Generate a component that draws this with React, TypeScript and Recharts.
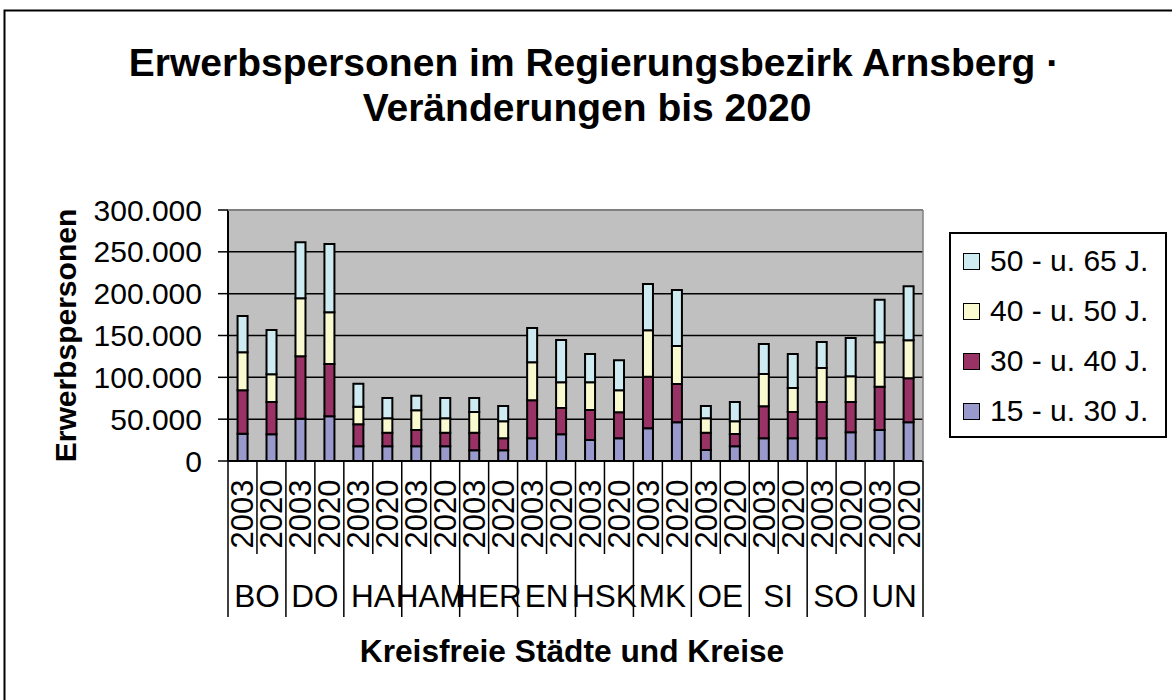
import React from 'react';
import { BarChart, Bar, XAxis, YAxis, CartesianGrid, Legend } from 'recharts';

// ---- data (values in persons) ----
const regions = ['BO', 'DO', 'HA', 'HAM', 'HER', 'EN', 'HSK', 'MK', 'OE', 'SI', 'SO', 'UN'];
const years = ['2003', '2020'];
const age15to30 = [32700, 31900, 50600, 53400, 17500, 17500, 17500, 17500, 12700, 12700, 27100, 31900, 25100, 27100, 39000, 46200, 13100, 17500, 27100, 27100, 27100, 34300, 37100, 46200];
const age30to40 = [51800, 38600, 74500, 62500, 26300, 16400, 19600, 16400, 21200, 14400, 45400, 31400, 35900, 31100, 61800, 45800, 20800, 14800, 38200, 31500, 43400, 36200, 51700, 52600];
const age40to50 = [45400, 33100, 69300, 61800, 21100, 17100, 23500, 17100, 24700, 20300, 45400, 30700, 33000, 26300, 55400, 45500, 17100, 15100, 38700, 28700, 40700, 30700, 53000, 45400];
const age50to65 = [43400, 53000, 67000, 81700, 27500, 24300, 17500, 24300, 16700, 18300, 41100, 50600, 33900, 35800, 55400, 66900, 14700, 23100, 35800, 40600, 31000, 45800, 51000, 64600];
const yTicks = [0, 50000, 100000, 150000, 200000, 250000, 300000];
const seriesNames = ['15 - u. 30 J.', '30 - u. 40 J.', '40 - u. 50 J.', '50 - u. 65 J.'];
const titleLines = ['Erwerbspersonen im Regierungsbezirk Arnsberg ·', 'Veränderungen bis 2020'];
const yTitle = 'Erwerbspersonen';
const xTitle = 'Kreisfreie Städte und Kreise';

const colors = ['#9999CC', '#993366', '#FAFAD0', '#CDEBF1'];
const keys = ['a15', 'a30', 'a40', 'a50'];

const data = regions.flatMap((r, ri) =>
  years.map((yr, yi) => {
    const i = ri * 2 + yi;
    return {
      id: `${r}-${yr}`,
      region: r,
      year: yr,
      a15: age15to30[i],
      a30: age30to40[i],
      a40: age40to50[i],
      a50: age50to65[i],
    };
  })
);

// ---- layout ----
const W = 1172;
const H = 700;
const FONT = '"Liberation Sans", Arial, Helvetica, sans-serif';
const M = { top: 210, right: 249, bottom: 79, left: 108 };
const Y_AXIS_W = 120;
const X_AXIS_H = 160;
const PLOT_L = M.left + Y_AXIS_W;
const PLOT_R = W - M.right;
const PLOT_T = M.top;
const PLOT_B = H - M.bottom - X_AXIS_H;
const BAND = (PLOT_R - PLOT_L) / data.length;

const fmt = (v: number) => (v === 0 ? '0' : v.toLocaleString('de-DE'));

function XTick(props: any) {
  const { x, y, payload, index } = props;
  const i = typeof payload?.index === 'number' ? payload.index : index;
  const d = data[i];
  if (!d) return null;
  const isSecond = i % 2 === 1;
  const rightX = x + BAND / 2;
  const leftX = x - BAND / 2;
  return (
    <g>
      {i === 0 && <line x1={leftX} y1={y} x2={leftX} y2={y + 156} stroke="#000" strokeWidth={1.5} />}
      <line x1={rightX} y1={y} x2={rightX} y2={isSecond ? y + 156 : y + 93} stroke="#000" strokeWidth={1.5} />
      <text
        transform={`translate(${x + 11}, ${y + 53}) rotate(-90)`}
        textAnchor="middle"
        fontSize={31}
        fontFamily={FONT}
        fill="#000"
      >
        {d.year}
      </text>
      {isSecond && (
        <text x={leftX} y={y + 135} dy="0.36em" textAnchor="middle" fontSize={31.5} fontFamily={FONT} fill="#000">
          {d.region}
        </text>
      )}
    </g>
  );
}

function LegendBox() {
  const items = seriesNames.map((n, i) => ({ name: n, color: colors[i] })).reverse();
  return (
    <div
      style={{
        width: 218,
        height: 206,
        boxSizing: 'border-box',
        border: '2px solid #000',
        background: '#fff',
        position: 'relative',
        fontFamily: FONT,
        fontSize: 30,
        color: '#000',
      }}
    >
      {items.map((it, k) => (
        <div
          key={it.name}
          style={{ position: 'absolute', left: 12, top: 27 + k * 50 - 17, height: 34, display: 'flex', alignItems: 'center', whiteSpace: 'nowrap' }}
        >
          <span
            style={{
              display: 'inline-block',
              width: 15,
              height: 15,
              background: it.color,
              border: '1.5px solid #000',
              marginRight: 10,
            }}
          />
          <span style={{ lineHeight: '34px' }}>{it.name}</span>
        </div>
      ))}
    </div>
  );
}

export default function App() {
  return (
    <div style={{ position: 'absolute', left: 0, top: 0, width: W, height: H, background: '#fff', overflow: 'hidden' }}>
      <BarChart width={W} height={H} data={data} margin={M} barCategoryGap="33%">
        <CartesianGrid vertical={false} fill="#C0C0C0" fillOpacity={1} stroke="#000" strokeWidth={1.5} />
        <XAxis
          dataKey="id"
          height={X_AXIS_H}
          interval={0}
          tickLine={false}
          tickSize={0}
          tickMargin={0}
          axisLine={{ stroke: '#000', strokeWidth: 2 }}
          tick={<XTick />}
        />
        <YAxis
          width={Y_AXIS_W}
          domain={[0, 300000]}
          ticks={yTicks}
          tickFormatter={fmt}
          tickSize={10}
          tickMargin={16}
          interval={0}
          axisLine={{ stroke: '#000', strokeWidth: 2 }}
          tickLine={{ stroke: '#000', strokeWidth: 1.5 }}
          tick={{ fill: '#000', fontSize: 30, fontFamily: FONT }}
        />
        <Legend
          layout="vertical"
          align="center"
          verticalAlign="middle"
          content={<LegendBox />}
          wrapperStyle={{ position: 'absolute', left: 949, top: 232, width: 218, height: 206 }}
        />
        {keys.map((k, i) => (
          <Bar
            key={k}
            dataKey={k}
            name={seriesNames[i]}
            stackId="s"
            fill={colors[i]}
            stroke="#000"
            strokeWidth={2}
            isAnimationActive={false}
          />
        ))}
      </BarChart>
      <svg
        width={W}
        height={H}
        style={{ position: 'absolute', left: 0, top: 0, pointerEvents: 'none' }}
        fontFamily={FONT}
      >
        <rect x={4.5} y={10.5} width={W + 20} height={H + 20} fill="none" stroke="#000" strokeWidth={2} />
        <line x1={PLOT_L} y1={PLOT_T} x2={PLOT_R} y2={PLOT_T} stroke="#808080" strokeWidth={2.2} />
        <line x1={PLOT_R} y1={PLOT_T} x2={PLOT_R} y2={PLOT_B} stroke="#808080" strokeWidth={1.5} />
        <text x={594} y={76} textAnchor="middle" fontSize={39} fontWeight="bold" fill="#000">
          {titleLines[0]}
        </text>
        <text x={587} y={121} textAnchor="middle" fontSize={39} fontWeight="bold" fill="#000">
          {titleLines[1]}
        </text>
        <text
          transform={`translate(76, ${(PLOT_T + PLOT_B) / 2}) rotate(-90)`}
          textAnchor="middle"
          fontSize={30}
          fontWeight="bold"
          fill="#000"
        >
          {yTitle}
        </text>
        <text x={572} y={662} textAnchor="middle" fontSize={31.7} fontWeight="bold" fill="#000">
          {xTitle}
        </text>
      </svg>
    </div>
  );
}
